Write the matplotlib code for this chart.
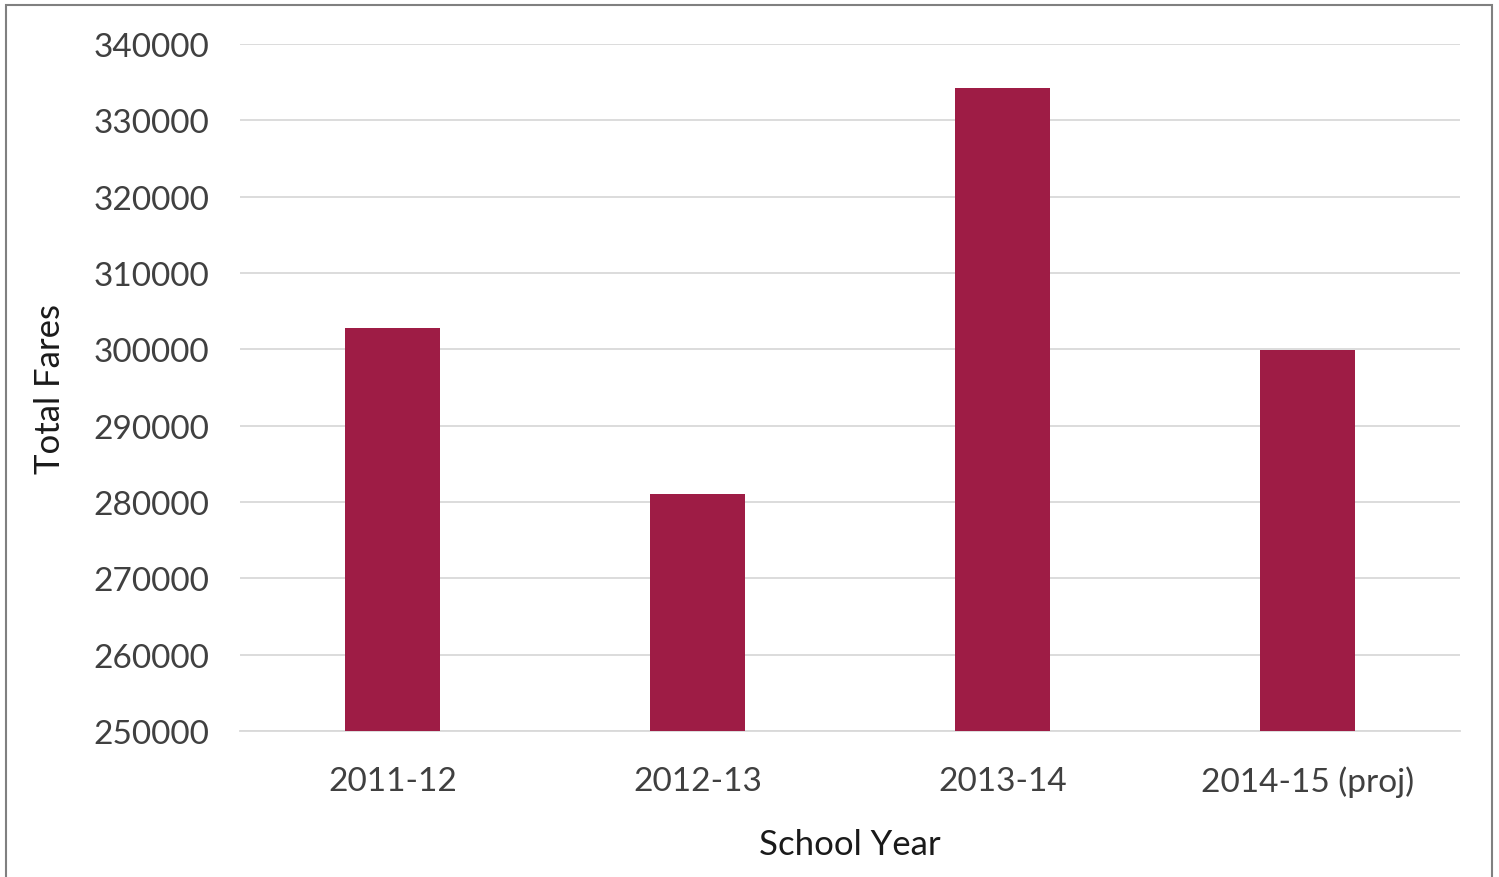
import matplotlib
matplotlib.use("Agg")
import matplotlib.pyplot as plt
from matplotlib.patches import Rectangle

categories = ["2011-12", "2012-13", "2013-14", "2014-15 (proj)"]
fares = [302800, 281000, 334200, 299900]
yticks = [250000, 260000, 270000, 280000, 290000, 300000, 310000, 320000, 330000, 340000]

W, H = 1499, 878
fig = plt.figure(figsize=(W / 100, H / 100), dpi=100)
plt.rcParams['font.family'] = ['Lato', 'DejaVu Sans']

left, right, top, bottom = 240, 1460, 45, 732
ax = fig.add_axes([left / W, 1 - bottom / H, (right - left) / W, (bottom - top) / H])

x = range(len(categories))
ax.bar(x, fares, width=0.31, color="#9E1C45", zorder=3, bottom=0)
ax.set_xlim(-0.5, len(categories) - 0.5)
ax.set_ylim(yticks[0], yticks[-1])
ax.set_yticks(yticks)
ax.set_yticklabels([str(v) for v in yticks])
ax.set_xticks(list(x))
ax.set_xticklabels(categories)
ax.grid(axis="y", color="#d9d9d9", linewidth=1.3, zorder=0)
ax.tick_params(axis="both", length=0, labelsize=24, colors="#404040")
ax.tick_params(axis="y", pad=22)
ax.tick_params(axis="x", pad=25)
for s in ["top", "right", "left"]:
    ax.spines[s].set_visible(False)
ax.spines["bottom"].set_color("#d9d9d9")
ax.spines["bottom"].set_linewidth(1.3)

fig.text(850 / W, 1 - 845 / H, "School Year", ha="center", va="center", fontsize=25, color="#1a1a1a")
fig.text(50 / W, 1 - 389 / H, "Total Fares", ha="center", va="center", rotation=90, fontsize=25, color="#1a1a1a")

fig.patches.append(Rectangle((6 / W, -0.05), (1492 - 6) / W, 1 - 6 / H + 0.05,
                             transform=fig.transFigure, fill=False, edgecolor="#808080", linewidth=1.5))

fig.savefig("out.png", dpi=100, facecolor="white")
